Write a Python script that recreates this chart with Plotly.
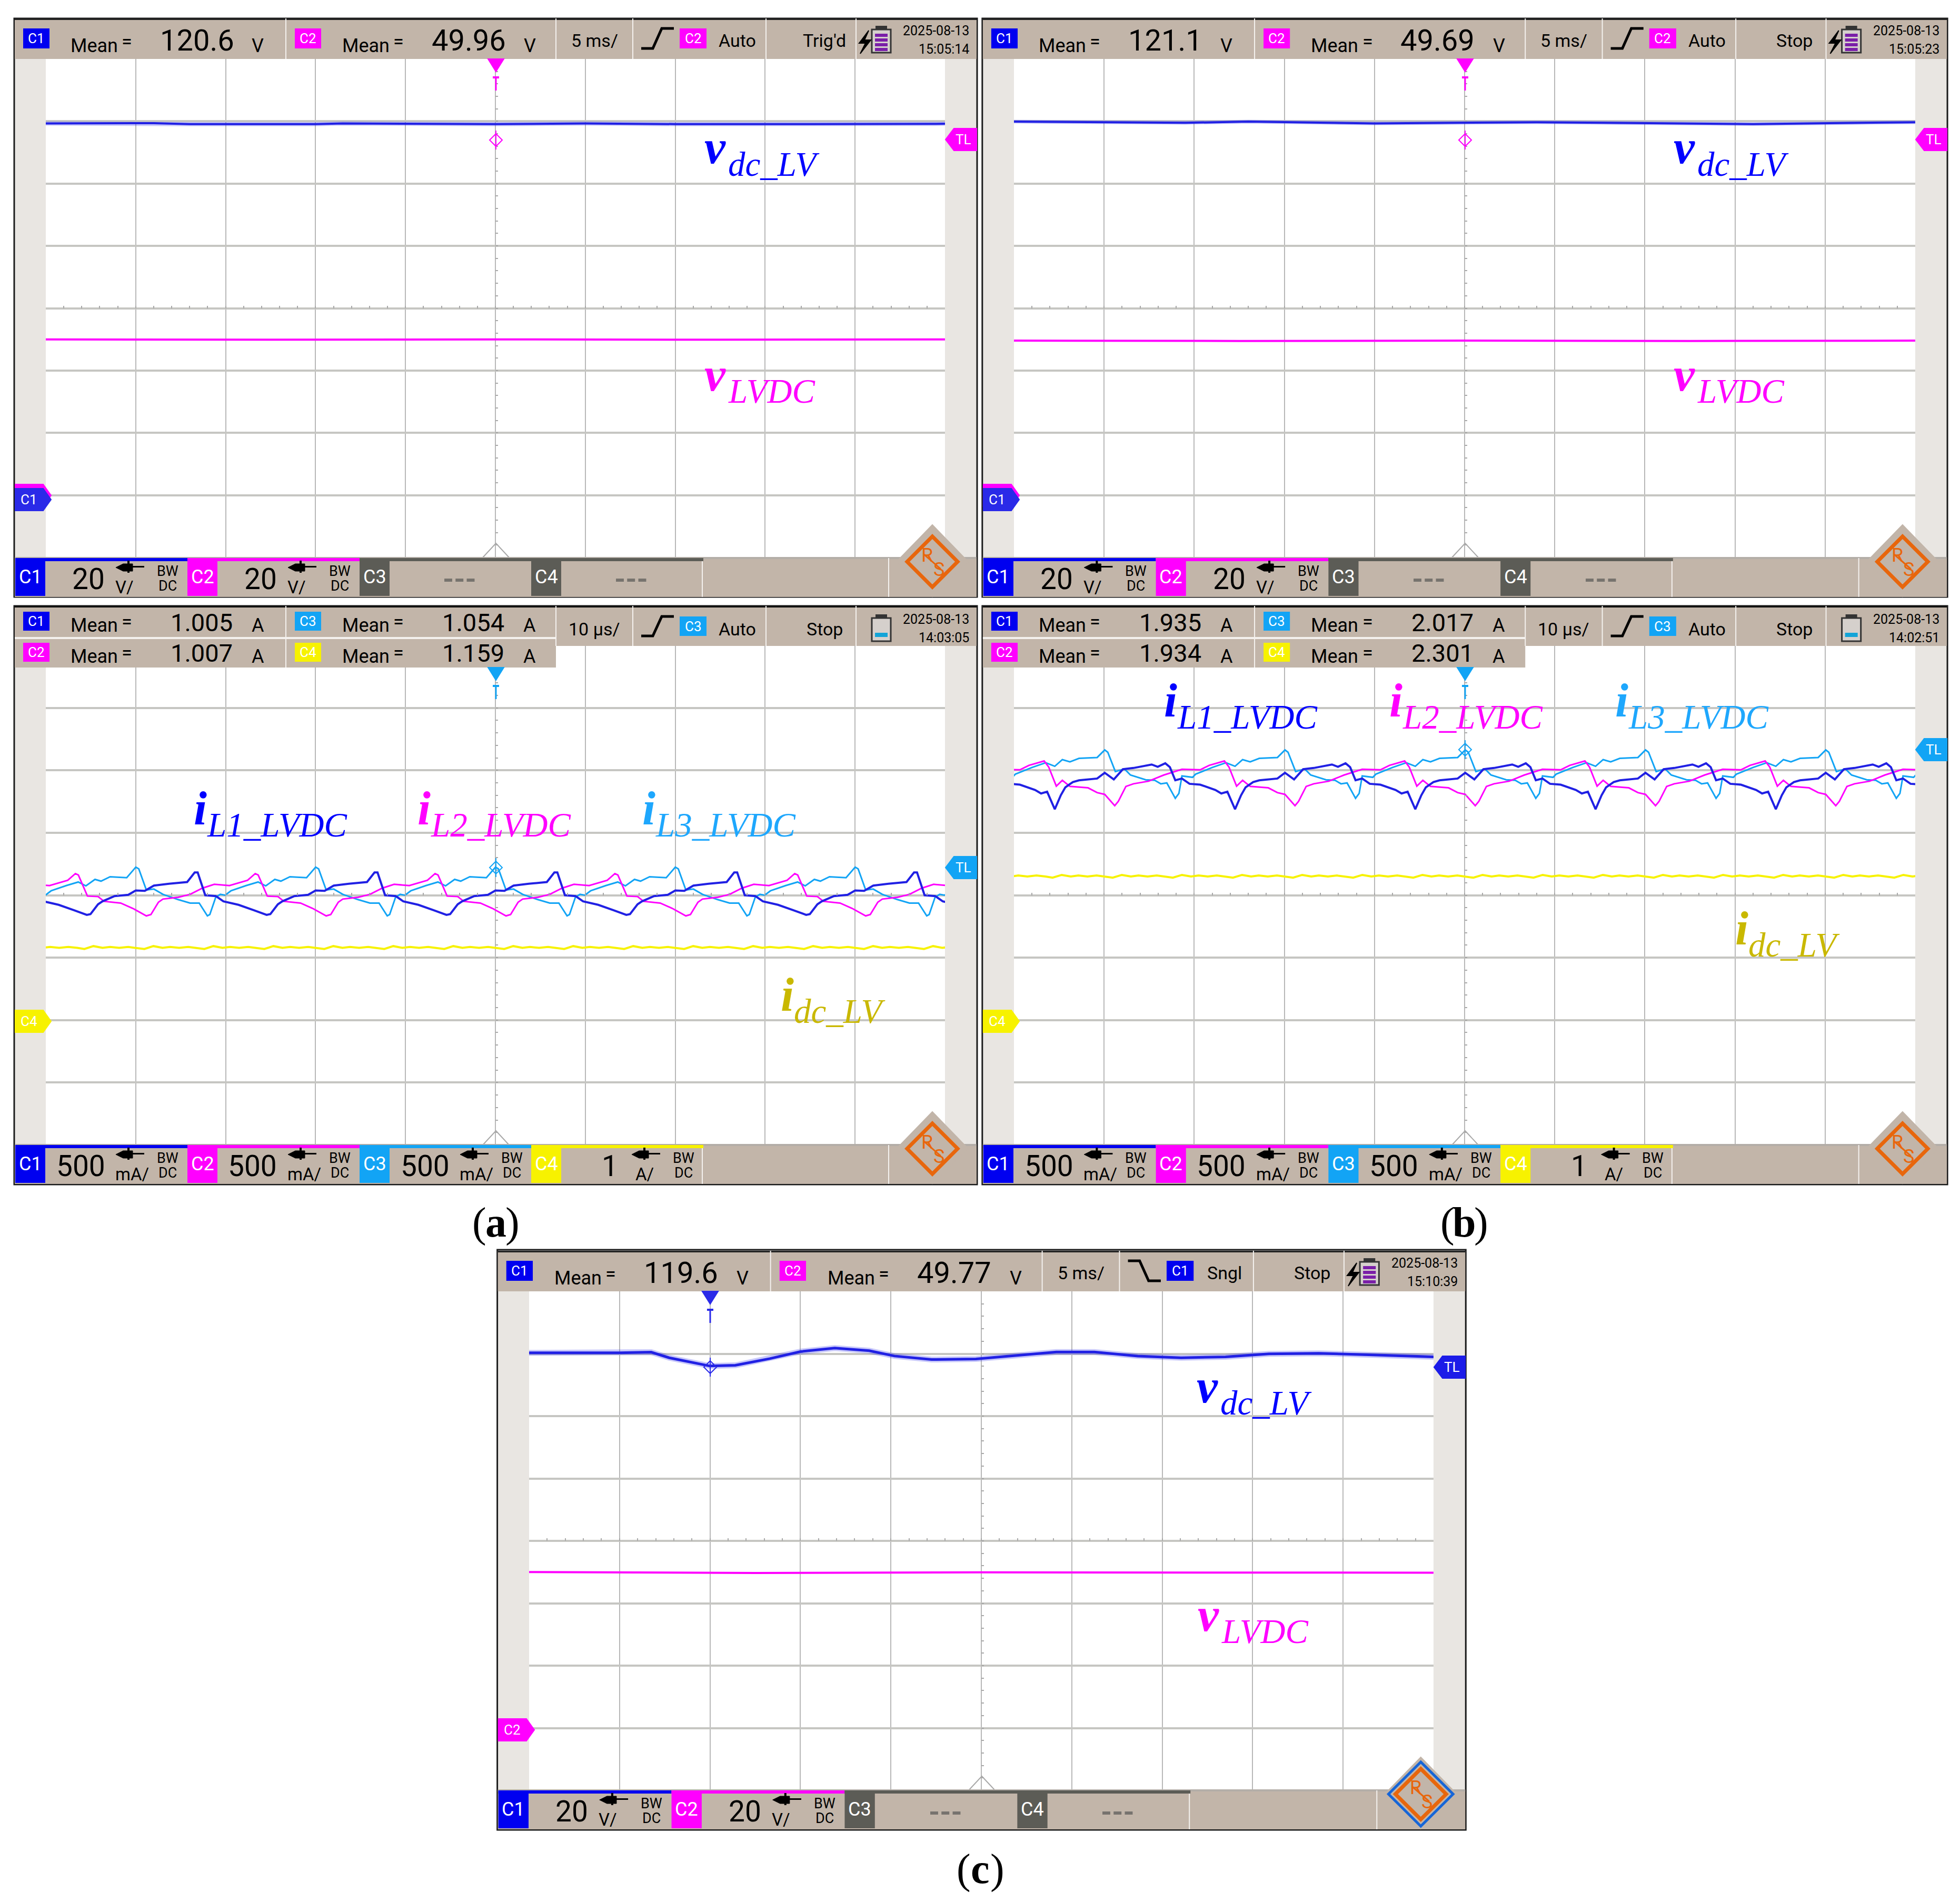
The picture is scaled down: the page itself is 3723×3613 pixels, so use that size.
import plotly.graph_objects as go

W, H = 3723, 3613
NARROW = "Roboto, sans-serif"
SERIF = "Liberation Serif, serif"

BLUE = "#2020e4"
FUZZ = "rgba(70,70,240,0.3)"
MAGENTA = "#ff00ff"
CYAN = "#12a4f5"
YELLOW = "#f7f200"
TAN = "#c2b5a9"
BAND = "#e9e6e2"
DARK = "#5c5c56"
ORANGE = "#e8660c"

# all y values are scope divisions above the centre line, x values are divisions from the left
# (a) voltages
a_vdc_t = [0, 1.2, 1.6, 3.0, 3.3, 5.0, 6.0, 7.0, 8.5, 10]
a_vdc = [2.965, 2.97, 2.955, 2.955, 2.965, 2.955, 2.965, 2.955, 2.955, 2.96]
a_vlv_t = [0, 2.5, 5, 7.5, 10]
a_vlv = [-0.50, -0.505, -0.50, -0.505, -0.50]

# (b) voltages
b_vdc_t = [0, 1.9, 2.6, 4.0, 5.8, 6.8, 8.2, 10]
b_vdc = [2.995, 2.975, 2.995, 2.965, 2.985, 2.975, 2.955, 2.985]
b_vlv_t = [0, 2.5, 5, 7.5, 10]
b_vlv = [-0.52, -0.525, -0.52, -0.525, -0.52]

# (c) load step
c_vdc_t = [0, 0.45, 1.0, 1.35, 1.55, 2.0, 2.28, 2.66, 3.0, 3.38, 3.76, 4.04, 4.45, 4.94,
           5.35, 5.83, 6.25, 6.73, 7.21, 7.7, 8.18, 8.73, 9.28, 10]
c_vdc = [3.014, 3.011, 3.014, 3.025, 2.935, 2.803, 2.814, 2.921, 3.034, 3.09, 3.048, 2.963,
         2.907, 2.915, 2.963, 3.028, 3.028, 2.963, 2.935, 2.949, 2.997, 3.006, 2.983, 2.949]
c_vlv_t = [0, 2.5, 5, 7.5, 10]
c_vlv = [-0.50, -0.515, -0.505, -0.505, -0.51]

# currents, one switching period each (20 us = 2 div), the scope shows it repeating
PERIOD = 2.0
RIPPLE_PERIOD = 0.667

a_il1_t = [0.456, 0.497, 0.581, 0.631, 0.765, 0.917, 1.001, 1.101, 1.202, 1.370, 1.572, 1.656,
           1.689, 1.773, 1.891, 1.975, 2.143, 2.311]
a_il1 = [-0.315, -0.303, -0.146, -0.098, -0.014, 0.006, 0.076, 0.070, 0.154, 0.183, 0.211, 0.365,
         0.365, 0.0, -0.014, -0.098, -0.154, -0.239]
a_il2_t = [0.329, 0.362, 0.463, 0.581, 0.648, 0.833, 0.967, 1.118, 1.169, 1.253, 1.303, 1.471,
           1.605, 1.740, 1.874, 2.042, 2.244]
a_il2 = [0.346, 0.323, -0.014, -0.022, -0.098, -0.126, -0.211, -0.331, -0.309, -0.112, -0.062,
         -0.034, 0.014, 0.112, 0.174, 0.154, 0.239]
a_il3_t = [0.446, 0.547, 0.614, 0.715, 0.900, 1.001, 1.034, 1.118, 1.202, 1.303, 1.471, 1.605,
           1.706, 1.797, 1.824, 1.891, 1.941, 1.995, 2.059, 2.227, 2.361]
a_il3 = [0.149, 0.253, 0.225, 0.295, 0.281, 0.449, 0.421, 0.084, 0.098, 0.014, -0.070, -0.126,
         -0.126, -0.331, -0.309, -0.028, 0.014, 0.0, 0.070, 0.154, 0.211]
a_idc_t = [0.429, 0.530, 0.631, 0.715, 0.816, 0.917, 1.017]
a_idc = [-0.862, -0.815, -0.843, -0.829, -0.843, -0.829, -0.843]

b_il1_t = [0.453, 0.520, 0.570, 0.654, 0.722, 0.923, 1.007, 1.108, 1.209, 1.326, 1.528, 1.595,
           1.679, 1.730, 1.790, 1.864, 1.948, 2.066, 2.234, 2.301, 2.368]
b_il1 = [1.376, 1.601, 1.728, 1.812, 1.840, 1.868, 1.961, 1.854, 2.017, 2.037, 2.093, 2.056,
         2.112, 2.051, 1.840, 1.868, 1.784, 1.770, 1.685, 1.629, 1.657]
b_il2_t = [0.335, 0.386, 0.470, 0.537, 0.621, 0.822, 0.923, 1.007, 1.118, 1.158, 1.242, 1.326,
           1.494, 1.662, 1.864, 2.066, 2.166]
b_il2 = [2.149, 2.051, 1.747, 1.840, 1.742, 1.719, 1.643, 1.615, 1.433, 1.503, 1.742, 1.784,
         1.826, 1.924, 2.017, 2.008, 2.079]
b_il3_t = [0.352, 0.453, 0.537, 0.621, 0.722, 0.923, 1.007, 1.041, 1.125, 1.226, 1.293, 1.461,
           1.562, 1.629, 1.696, 1.790, 1.830, 1.864, 1.982, 2.015, 2.200]
b_il3 = [2.121, 2.065, 2.171, 2.135, 2.191, 2.205, 2.326, 2.289, 1.980, 2.022, 1.924, 1.848,
         1.840, 1.784, 1.798, 1.551, 1.629, 1.910, 1.888, 1.938, 2.045]
b_idc_t = [0.429, 0.530, 0.631, 0.715, 0.816, 0.917, 1.017]
b_idc = [0.28, 0.325, 0.30, 0.315, 0.30, 0.315, 0.30]


def repeat_wave(t, y, period):
    xs, ys = [], []
    k = -1
    while k * period + t[0] < 10:
        xs += [v + k * period for v in t]
        ys += y
        k += 1
    return xs, ys


shapes = []
notes = []

# the screens in the figure are not all pasted at the same size
x_origin, x_scale = 0, 1.0


def fx(x):
    return x_origin + (x - x_origin) * x_scale


def use_screen(origin=0, scale=1.0):
    global x_origin, x_scale
    x_origin, x_scale = origin, scale


def rect(x0, y0, x1, y1, fill, line=None, lw=0):
    shapes.append(dict(type="rect", xref="paper", yref="paper", layer="above",
                       x0=fx(x0) / W, x1=fx(x1) / W, y0=1 - y0 / H, y1=1 - y1 / H,
                       fillcolor=fill, line=dict(color=line or fill, width=lw)))


def poly(points, fill=None, line=None, lw=2, closed=True):
    path = "M " + " L ".join(f"{fx(x) / W:.6f},{1 - y / H:.6f}" for x, y in points)
    if closed:
        path += " Z"
    shapes.append(dict(type="path", xref="paper", yref="paper", layer="above", path=path,
                       fillcolor=fill if fill else "rgba(0,0,0,0)",
                       line=dict(color=line or fill or "black", width=lw)))


def text(x, y, s, size, color="black", font=NARROW, anchor="center", weight="normal", style="normal"):
    notes.append(dict(xref="paper", yref="paper", x=fx(x) / W, y=1 - y / H, text=s, showarrow=False,
                      font=dict(family=font, size=size, color=color, weight=weight, style=style),
                      xanchor=anchor, yanchor="middle", borderpad=0))


def badge(x0, y0, x1, y1, color, label, size=26):
    rect(x0, y0, x1, y1, color)
    text((x0 + x1) / 2, (y0 + y1) / 2, label, size, "white")


def edge_icon(ox, y0, y1, falling=False):
    a, b = (y1, y0) if not falling else (y0, y1)
    poly([(ox + 1218, a), (ox + 1240, a), (ox + 1257, b), (ox + 1280, b)], line="black", lw=5, closed=False)


def battery(ox, y0, y1, kind):
    poly([(ox + 1664, y0), (ox + 1684, y0), (ox + 1684, y0 + 6), (ox + 1664, y0 + 6)], fill="#333333")
    rect(ox + 1656, y0 + 6, ox + 1692, y1, "#d5d0cc", line="#333333", lw=3)
    if kind == "bolt":
        for k in range(4):
            yy = y0 + 14 + k * 9
            rect(ox + 1662, yy, ox + 1686, yy + 6, "#7a1fa8")
        poly([(ox + 1650, y0 + 8), (ox + 1632, y0 + 32), (ox + 1644, y0 + 32), (ox + 1634, y0 + 52),
              (ox + 1654, y0 + 26), (ox + 1642, y0 + 26)], fill="black")
    else:
        rect(ox + 1662, y1 - 16, ox + 1686, y1 - 8, "#12a4d8")


def frame(ox, plot_top, plot_bot, frame_top):
    rect(ox + 29, plot_top, ox + 87, plot_bot, BAND)
    rect(ox + 1795, plot_top, ox + 1855, plot_bot, BAND)
    # trigger position mark at the bottom of the centre line
    poly([(ox + 917, plot_bot), (ox + 942, plot_bot - 27), (ox + 967, plot_bot)], line="#a8a8a8", lw=2, closed=False)
    rect(ox + 27, frame_top, ox + 1856, plot_bot + 75, "rgba(0,0,0,0)", line="#1a1a1a", lw=3)


def header_common(ox, y_top, y_bot, y_mid, tb_label, trig_color, trig_label, mode, status, date, clock, kind,
                  edge_y, falling=False):
    for sx in [1056, 1202, 1455, 1626]:
        rect(ox + sx - 1, y_top, ox + sx + 1, y_bot, "#f4f1ee")
    text(ox + 1129, y_mid, tb_label, 34)
    edge_icon(ox, edge_y[0], edge_y[1], falling)
    badge(ox + 1291, edge_y[0], ox + 1342, edge_y[1], trig_color, trig_label)
    text(ox + 1400, y_mid, mode, 34)
    text(ox + 1566, y_mid, status, 34)
    text(ox + 1842, y_mid - 19, date, 25, anchor="right")
    text(ox + 1842, y_mid + 16, clock, 25, anchor="right")
    battery(ox, y_mid - 27, y_mid + 23, kind)


def voltage_header(ox, oy, v1, v2, trig_color, trig_label, mode, status, clock, falling=False):
    y0 = oy + 35
    rect(ox + 28, y0, ox + 1855, y0 + 77, TAN)
    rect(ox + 28, y0, ox + 1855, y0 + 3, "#222222")
    rect(ox + 542, y0, ox + 544, y0 + 77, "#f4f1ee")
    for dx, color, label, val in [(0, "#0000f0", "C1", v1), (516, MAGENTA, "C2", v2)]:
        badge(ox + 44 + dx, oy + 54, ox + 94 + dx, oy + 92, color, label)
        text(ox + 179 + dx, oy + 87, "Mean", 36)
        text(ox + 241 + dx, oy + 79, "=", 36)
        text(ox + 374 + dx, oy + 77, val, 56)
        text(ox + 490 + dx, oy + 87, "V", 36)
    header_common(ox, y0, y0 + 77, oy + 77, "5 ms/", trig_color, trig_label, mode, status, "2025-08-13", clock,
                  "bolt", (oy + 54, oy + 92), falling)


def current_header(ox, oy, vals, status, clock):
    y0 = oy + 1151
    rect(ox + 28, y0, ox + 1056, y0 + 117, TAN)
    rect(ox + 1056, y0, ox + 1855, y0 + 76, TAN)
    rect(ox + 28, y0, ox + 1855, y0 + 3, "#111111")
    rect(ox + 28, y0 + 59, ox + 1056, y0 + 63, "#f4f1ee")
    rect(ox + 542, y0, ox + 544, y0 + 117, "#f4f1ee")
    cells = [(0, 0, "#0000f0", "C1"), (516, 0, CYAN, "C3"), (0, 59, MAGENTA, "C2"), (516, 59, YELLOW, "C4")]
    for (dx, dy, color, label), val in zip(cells, vals):
        badge(ox + 44 + dx, y0 + 11 + dy, ox + 94 + dx, y0 + 47 + dy, color, label)
        text(ox + 179 + dx, y0 + 37 + dy, "Mean", 36)
        text(ox + 241 + dx, y0 + 30 + dy, "=", 36)
        text(ox + 383 + dx, y0 + 31 + dy, val, 47)
        text(ox + 490 + dx, y0 + 37 + dy, "A", 36)
    header_common(ox, y0, y0 + 76, oy + 1195, "10 µs/", CYAN, "C3", "Auto", status, "2025-08-13", clock,
                  "cell", (oy + 1171, oy + 1208))


def bottom_bar(ox, y0, cells, logo_blue=False):
    rect(ox + 28, y0, ox + 1855, y0 + 74, TAN)
    rect(ox + 28, y0 - 2, ox + 1855, y0 + 2, "#b4aea8")
    rect(ox + 1333, y0, ox + 1335, y0 + 74, "#f4f1ee")
    rect(ox + 1687, y0, ox + 1689, y0 + 74, "#f4f1ee")
    starts = [29, 356, 683, 1009]
    for cx, (color, value, unit) in zip(starts, cells):
        end = cx + 327
        rect(ox + cx, y0, ox + end, y0 + 6, color)
        badge(ox + cx, y0, ox + cx + 57, y0 + 72, color, f"C{starts.index(cx) + 1}", 36)
        if value is None:
            text(ox + cx + 190, y0 + 40, "---", 54, "#77736e", weight="bold")
            continue
        if unit == "A/":
            text(ox + cx + 149, y0 + 40, value, 55)
        else:
            text(ox + cx + 124 if unit == "mA/" else ox + cx + 139, y0 + 40, value, 55)
        ux = ox + cx + {"mA/": 222, "V/": 207, "A/": 215}[unit]
        text(ux, y0 + 55, unit, 33)
        # probe icon sits at the same spot in every cell
        ix = ox + cx + 217
        poly([(ix - 26, y0 + 18), (ix - 12, y0 + 11), (ix + 6, y0 + 11), (ix + 6, y0 + 25), (ix - 12, y0 + 25)],
             fill="black", lw=1)
        rect(ix - 4, y0 + 5, ix, y0 + 28, "black")
        rect(ix, y0 + 15, ix + 28, y0 + 18, "black")
        text(ox + cx + 289, y0 + 25, "BW", 27)
        text(ox + cx + 289, y0 + 53, "DC", 27)
    # R&S logo
    lx, ly = ox + 1771, y0 + 7
    poly([(lx, ly - 70), (lx + 68, ly), (lx, ly + 66), (lx - 68, ly)], fill=TAN)
    if logo_blue:
        poly([(lx, ly - 61), (lx + 61, ly), (lx, ly + 61), (lx - 61, ly)], line="#1565d8", lw=5)
    poly([(lx, ly - 48), (lx + 48, ly), (lx, ly + 48), (lx - 48, ly)], line=ORANGE, lw=7)
    poly([(lx - 16, ly - 14), (lx + 16, ly + 14)], line=ORANGE, lw=3, closed=False)
    text(lx - 10, ly - 12, "R", 36, ORANGE)
    text(lx + 12, ly + 15, "S", 36, ORANGE)


def trigger(x, plot_top, y, color):
    poly([(x - 15, plot_top), (x + 15, plot_top), (x, plot_top + 24)], fill=color)
    poly([(x, plot_top + 33), (x, plot_top + 60)], line=color, lw=3, closed=False)
    poly([(x - 6, plot_top + 35), (x + 6, plot_top + 35)], line=color, lw=4, closed=False)
    poly([(x, y - 18), (x, y + 18)], line=color, lw=2, closed=False)
    poly([(x, y - 12), (x + 12, y), (x, y + 12), (x - 12, y)], line=color, lw=2)


def tl_marker(ox, y, color):
    poly([(ox + 1796, y), (ox + 1812, y - 21), (ox + 1855, y - 21), (ox + 1855, y + 21), (ox + 1812, y + 21)], fill=color)
    text(ox + 1830, y, "TL", 26, "white")


def ch_marker(ox, y, color, label=None):
    poly([(ox + 29, y - 21), (ox + 82, y - 21), (ox + 97, y), (ox + 82, y + 21), (ox + 29, y + 21)], fill=color)
    if label:
        text(ox + 55, y, label, 26, "white")


def math_label(x, baseline, main, sub, color, sub_x, sub_drop=24):
    # text() centres on the line box, which sits about a third of an em above the baseline
    text(x, baseline - 30, main, 90, color, SERIF, "left", "bold", "italic")
    text(x + sub_x, baseline + sub_drop - 22, sub, 65, color, SERIF, "left", "normal", "italic")


def label_v(x, baseline, sub, color):
    math_label(x, baseline, "v", sub, color, 45)


def label_i(x, baseline, sub, color):
    math_label(x, baseline, "i", sub, color, 25)


def caption(x, y, letter):
    text(x - 32, y, "(", 80, "black", SERIF)
    text(x, y, letter, 80, "black", SERIF, weight="bold")
    text(x + 32, y, ")", 80, "black", SERIF)


PANELS = [
    # plot left, plot right, plot top, plot bottom
    (87, 1795, 112, 1059),
    (1926, 3638, 112, 1059),
    (87, 1795, 1226, 2175),
    (1926, 3638, 1226, 2175),
    (1005, 2723, 2453, 3401),
]

fig = go.Figure()


def add_line(n, x, y, color, width):
    suffix = "" if n == 1 else str(n)
    fig.add_trace(go.Scatter(x=x, y=y, mode="lines", line=dict(color=color, width=width),
                             xaxis="x" + suffix, yaxis="y" + suffix, showlegend=False, hoverinfo="skip"))


for n, (left, right, top, bot) in enumerate(PANELS, start=1):
    suffix = "" if n == 1 else str(n)
    grid = dict(showgrid=True, showline=False, zeroline=False, showticklabels=False, dtick=1, tick0=0,
                ticks="inside", ticklen=5, tickcolor="#a8a8a8", tickwidth=2, anchor="free",
                minor=dict(dtick=0.2, ticks="inside", ticklen=5, tickcolor="#a8a8a8", tickwidth=2, showgrid=False))
    fig.update_layout(**{
        "xaxis" + suffix: dict(grid, domain=[left / W, right / W], range=[0, 10], gridcolor="#b8b8b8", gridwidth=2,
                               position=1 - (top + bot) / 2 / H),
        "yaxis" + suffix: dict(grid, domain=[1 - bot / H, 1 - top / H], range=[-4, 4], gridcolor="#c6c6c2", gridwidth=4,
                               position=((left + right) / 2 - 1) / W),
    })

add_line(1, a_vdc_t, a_vdc, FUZZ, 8)
add_line(1, a_vdc_t, a_vdc, BLUE, 4)
add_line(1, a_vlv_t, a_vlv, MAGENTA, 4)
add_line(2, b_vdc_t, b_vdc, FUZZ, 7)
add_line(2, b_vdc_t, b_vdc, BLUE, 4)
add_line(2, b_vlv_t, b_vlv, MAGENTA, 4)
add_line(3, *repeat_wave(a_idc_t, a_idc, RIPPLE_PERIOD), YELLOW, 4)
add_line(3, *repeat_wave(a_il3_t, a_il3, PERIOD), CYAN, 3)
add_line(3, *repeat_wave(a_il2_t, a_il2, PERIOD), MAGENTA, 3)
add_line(3, *repeat_wave(a_il1_t, a_il1, PERIOD), BLUE, 4)
add_line(4, *repeat_wave(b_idc_t, b_idc, RIPPLE_PERIOD), YELLOW, 4)
add_line(4, *repeat_wave(b_il3_t, b_il3, PERIOD), CYAN, 3)
add_line(4, *repeat_wave(b_il2_t, b_il2, PERIOD), MAGENTA, 3)
add_line(4, *repeat_wave(b_il1_t, b_il1, PERIOD), BLUE, 4)
add_line(5, c_vdc_t, c_vdc, FUZZ, 11)
add_line(5, c_vdc_t, c_vdc, BLUE, 5)
add_line(5, c_vlv_t, c_vlv, MAGENTA, 4)

VOLT_BAR = [("#0000f0", "20", "V/"), (MAGENTA, "20", "V/"), (DARK, None, None), (DARK, None, None)]
AMP_BAR = [("#0000f0", "500", "mA/"), (MAGENTA, "500", "mA/"), (CYAN, "500", "mA/"), (YELLOW, "1", "A/")]

# (a) voltage screen
frame(0, 112, 1059, 35)
voltage_header(0, 0, "120.6", "49.96", MAGENTA, "C2", "Auto", "Trig'd", "15:05:14")
bottom_bar(0, 1060, VOLT_BAR)
trigger(942, 112, 266, MAGENTA)
tl_marker(0, 265, MAGENTA)
ch_marker(0, 941, MAGENTA)
ch_marker(0, 949, "#2a2ae8", "C1")
label_v(1337, 310, "dc_LV", "#0000ff")
label_v(1337, 741, "LVDC", MAGENTA)

# (b) voltage screen
use_screen(1926, 1.0023)
frame(1839, 112, 1059, 35)
voltage_header(1839, 0, "121.1", "49.69", MAGENTA, "C2", "Auto", "Stop", "15:05:23")
bottom_bar(1839, 1060, VOLT_BAR)
trigger(1839 + 942, 112, 266, MAGENTA)
tl_marker(1839, 265, MAGENTA)
ch_marker(1839, 941, MAGENTA)
ch_marker(1839, 949, "#2a2ae8", "C1")
use_screen()
label_v(3178, 310, "dc_LV", "#0000ff")
label_v(3178, 741, "LVDC", MAGENTA)

# (a) current screen
frame(0, 1226, 2175, 1151)
current_header(0, 0, ["1.005", "1.054", "1.007", "1.159"], "Stop", "14:03:05")
bottom_bar(0, 2175, AMP_BAR)
trigger(942, 1268, 1648, CYAN)
tl_marker(0, 1648, CYAN)
ch_marker(0, 1940, YELLOW, "C4")
label_i(367, 1565, "L1_LVDC", "#0000ff")
label_i(792, 1565, "L2_LVDC", MAGENTA)
label_i(1219, 1565, "L3_LVDC", "#1ea7fd")
label_i(1482, 1919, "dc_LV", "#c9b800")

# (b) current screen
use_screen(1926, 1.0023)
frame(1839, 1226, 2175, 1151)
current_header(1839, 0, ["1.935", "2.017", "1.934", "2.301"], "Stop", "14:02:51")
bottom_bar(1839, 2175, AMP_BAR)
trigger(1839 + 942, 1268, 1424, CYAN)
tl_marker(1839, 1424, CYAN)
ch_marker(1839, 1940, YELLOW, "C4")
use_screen()
label_i(2210, 1360, "L1_LVDC", "#0000ff")
label_i(2638, 1360, "L2_LVDC", MAGENTA)
label_i(3067, 1360, "L3_LVDC", "#1ea7fd")
label_i(3295, 1793, "dc_LV", "#c9b800")

# (c) step response
use_screen(1005, 1.0058)
frame(918, 2453, 3401, 2374)
voltage_header(918, 2341, "119.6", "49.77", "#0000f0", "C1", "Sngl", "Stop", "15:10:39", falling=True)
bottom_bar(918, 3401, VOLT_BAR, logo_blue=True)
trigger(1347, 2453, 2597, "#2a2ae8")
tl_marker(918, 2597, "#1c1ce8")
ch_marker(918, 3286, MAGENTA, "C2")
use_screen()
label_v(2272, 2663, "dc_LV", "#0000ff")
label_v(2274, 3097, "LVDC", MAGENTA)

caption(942, 2322, "a")
caption(2781, 2322, "b")
caption(1862, 3550, "c")

fig.update_layout(width=W, height=H, margin=dict(l=0, r=0, t=0, b=0), autosize=False,
                  paper_bgcolor="white", plot_bgcolor="white", showlegend=False,
                  shapes=shapes, annotations=notes)

fig.write_html("out.html", post_script="document.body.style.margin='0';", config={"displayModeBar": False})
